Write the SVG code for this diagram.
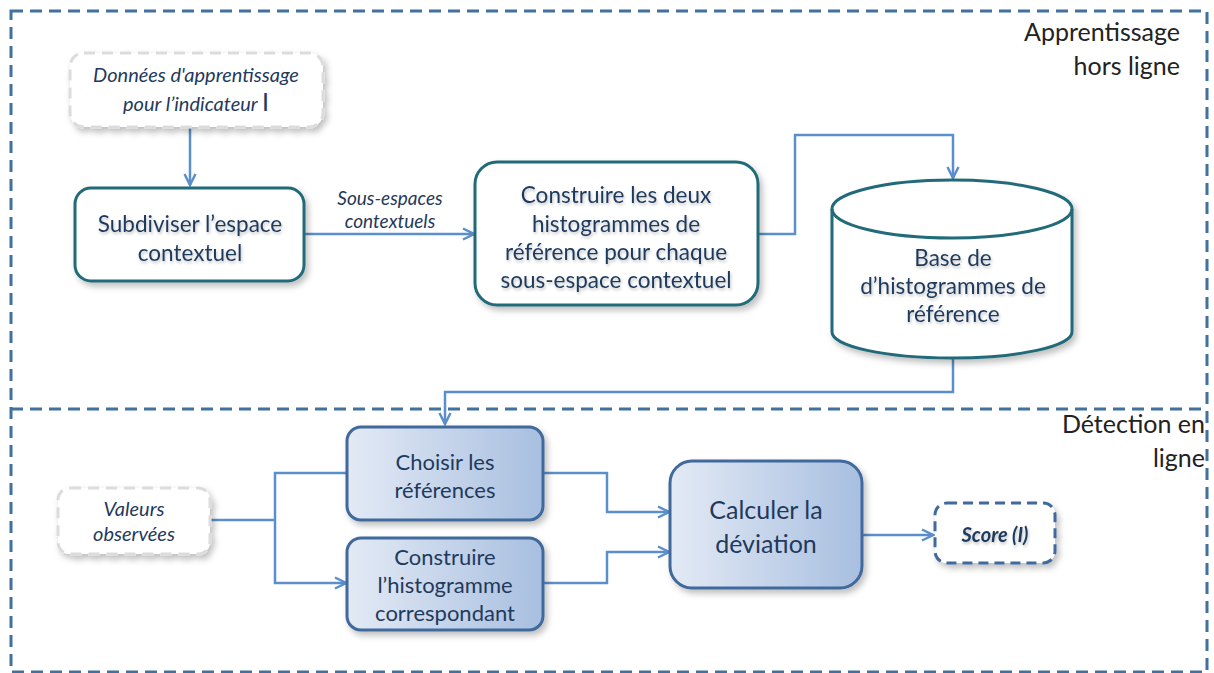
<svg xmlns="http://www.w3.org/2000/svg" width="1214" height="673" viewBox="0 0 1214 673">
<style>
.frame{fill:none;stroke:#41719c;stroke-width:3;stroke-dasharray:12 7}
.conn{fill:none;stroke:#5b8fcb;stroke-width:2.5}
.t{font-family:Lato,"Liberation Sans",sans-serif;fill:#1f3a5c;text-anchor:middle}
.it{font-style:italic}
.head{font-family:Lato,"Liberation Sans",sans-serif;fill:#222;font-size:25px;text-anchor:end}
.teal{fill:#fff;stroke:#226b79;stroke-width:3}
.blue{fill:url(#grad);stroke:#41699c;stroke-width:3}
.gdash{fill:#fff;stroke:#dcdcdc;stroke-width:3;stroke-dasharray:11 7}
</style>
<defs>
<linearGradient id="grad" x1="0" y1="0" x2="1" y2="0">
<stop offset="0" stop-color="#e3eaf5"/>
<stop offset="1" stop-color="#a8bfe0"/>
</linearGradient>
<filter id="sh" x="-10%" y="-10%" width="125%" height="130%">
<feDropShadow dx="3" dy="4" stdDeviation="3" flood-color="#000" flood-opacity="0.25"/>
</filter>
<filter id="tsh" x="-5%" y="-20%" width="115%" height="150%">
<feDropShadow dx="1" dy="2" stdDeviation="1.5" flood-color="#000" flood-opacity="0.25"/>
</filter>
<marker id="arr" viewBox="0 0 14 14" refX="12" refY="7" markerWidth="14" markerHeight="14" markerUnits="userSpaceOnUse" orient="auto">
<path d="M1,1.5 L12,7 L1,12.5" fill="none" stroke="#5b8fcb" stroke-width="2.5"/>
</marker>
</defs>

<g id="frames">
<rect class="frame" x="11" y="11" width="1196" height="661"/>
<line class="frame" x1="11" y1="409" x2="1207" y2="409"/>
<text class="head" x="1180" y="41">Apprentissage</text>
<text class="head" x="1180" y="75">hors ligne</text>
<text class="head" x="1205" y="433">Détection en</text>
<text class="head" x="1205" y="467">ligne</text>
</g>

<g id="connectors">
<line class="conn" x1="190" y1="128" x2="190" y2="185" marker-end="url(#arr)"/>
<line class="conn" x1="304" y1="234" x2="474" y2="234" marker-end="url(#arr)"/>
<polyline class="conn" points="758,234 795,234 795,135 953,135 953,178" marker-end="url(#arr)"/>
<polyline class="conn" points="953,359 953,392 445,392 445,424" marker-end="url(#arr)"/>
<polyline class="conn" points="211,520 275,520"/>
<polyline class="conn" points="346,473 275,473 275,583 346,583" marker-start="url(#arr)" marker-end="url(#arr)"/>
<polyline class="conn" points="544,473 607,473 607,512 669,512" marker-end="url(#arr)"/>
<polyline class="conn" points="544,583 607,583 607,552 669,552" marker-end="url(#arr)"/>
<line class="conn" x1="863" y1="535" x2="933" y2="535" stroke-width="3" marker-end="url(#arr)"/>
<text class="t it" x="390" y="205" font-size="19">Sous-espaces</text>
<text class="t it" x="390" y="228" font-size="19">contextuels</text>
</g>

<g id="donnees">
<rect class="gdash" x="70" y="53" width="253" height="74" rx="14" filter="url(#sh)"/>
<text class="t it" x="196" y="82" font-size="20">Données d'apprentissage</text>
<text class="t it" x="196" y="111" font-size="20">pour l’indicateur <tspan font-style="normal" font-size="25">I</tspan></text>
</g>

<g id="subdiviser">
<rect class="teal" x="75" y="188" width="229" height="93" rx="16" filter="url(#sh)"/>
<g filter="url(#tsh)">
<text class="t" x="190" y="232" font-size="22.5">Subdiviser l’espace</text>
<text class="t" x="190" y="261" font-size="22.5">contextuel</text>
</g>
</g>

<g id="construire-ref">
<rect class="teal" x="475" y="162" width="283" height="143" rx="22" filter="url(#sh)"/>
<g filter="url(#tsh)">
<text class="t" x="616" y="203" font-size="22.5">Construire les deux</text>
<text class="t" x="616" y="232" font-size="22.5">histogrammes de</text>
<text class="t" x="616" y="260" font-size="22.5">référence pour chaque</text>
<text class="t" x="616" y="288" font-size="22.5">sous-espace contextuel</text>
</g>
</g>

<g id="base">
<path class="teal" d="M832,209 L832,332 A120,26 0 0 0 1072,332 L1072,209 A120,29 0 0 0 832,209 Z" filter="url(#sh)"/>
<path d="M832,209 A120,29 0 0 0 1072,209" fill="none" stroke="#226b79" stroke-width="3"/>
<g filter="url(#tsh)">
<text class="t" x="953" y="266" font-size="22.5">Base de</text>
<text class="t" x="953" y="294" font-size="22.5">d’histogrammes de</text>
<text class="t" x="953" y="322" font-size="22.5">référence</text>
</g>
</g>

<g id="valeurs">
<rect class="gdash" x="58" y="488" width="152" height="66" rx="12" filter="url(#sh)"/>
<text class="t it" x="134" y="516" font-size="20">Valeurs</text>
<text class="t it" x="134" y="541" font-size="20">observées</text>
</g>

<g id="choisir">
<rect class="blue" x="347" y="427" width="196" height="93" rx="14" filter="url(#sh)"/>
<text class="t" x="445" y="470" font-size="22">Choisir les</text>
<text class="t" x="445" y="498" font-size="22">références</text>
</g>

<g id="construire-hist">
<rect class="blue" x="347" y="538" width="196" height="92" rx="14" filter="url(#sh)"/>
<text class="t" x="445" y="565" font-size="22">Construire</text>
<text class="t" x="445" y="593" font-size="22">l’histogramme</text>
<text class="t" x="445" y="621" font-size="22">correspondant</text>
</g>

<g id="calculer">
<rect class="blue" x="670" y="461" width="192" height="127" rx="22" filter="url(#sh)"/>
<text class="t" x="766" y="519" font-size="25">Calculer la</text>
<text class="t" x="766" y="553" font-size="25">déviation</text>
</g>

<g id="score">
<rect x="935" y="503" width="120" height="60" rx="12" fill="#fff" stroke="#41699c" stroke-width="3" stroke-dasharray="10 6" filter="url(#sh)"/>
<text class="t it" x="995" y="542" font-size="20" font-weight="bold" filter="url(#tsh)">Score (I)</text>
</g>
</svg>
